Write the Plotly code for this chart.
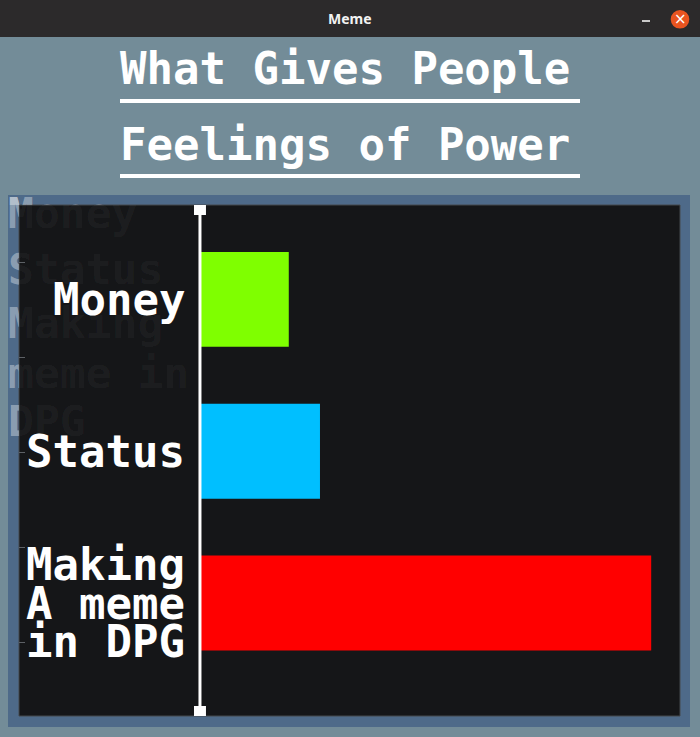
import plotly.graph_objects as go

W, H = 700, 737

# ---- data ----
CATEGORIES = ["Money", "Status", "Making A meme in DPG"]
VALUES = [18.5, 25, 94]
COLORS = ["#7fff00", "#00bfff", "#ff0000"]
LABEL_LINES = [["Money"], ["Status"], ["Making", "A meme", "in DPG"]]
TITLE_LINES = ["What Gives People", "Feelings of Power"]
GHOST_LINES = ["Money", "Status", "Making", "meme in", "DPG"]
WINDOW_TITLE = "Meme"

MONO = "DejaVu Sans Mono"


def px(x):
    return x / W


def py(y):
    return 1 - y / H


# pixel boxes (left, top, right, bottom)
FRAME = (8, 195, 690, 727)
PLOT = (19, 205, 680, 716)
GHOST_Y = [217, 273, 327, 377, 425]
TICK_PIX = [262, 357, 452, 547, 642]

fig = go.Figure()


def ghost_trace(xa, ya, alpha):
    return go.Scatter(
        x=[8] * len(GHOST_LINES), y=GHOST_Y, text=GHOST_LINES,
        mode="text", textposition="middle right",
        textfont=dict(family=MONO, size=43, color=f"rgba(255,255,255,{alpha})", weight="bold"),
        cliponaxis=True, hoverinfo="skip", xaxis=xa, yaxis=ya,
    )


# ghost text: bright over frame strips, barely visible over plot area
fig.add_trace(ghost_trace("x", "y", 0.37))      # left strip of frame
fig.add_trace(ghost_trace("x3", "y3", 0.37))    # top strip of frame
fig.add_trace(ghost_trace("x4", "y4", 0.045))   # inside plot area

# bars
fig.add_trace(go.Bar(
    x=VALUES, y=CATEGORIES, orientation="h", width=0.625,
    marker=dict(color=COLORS, line=dict(width=0)),
    xaxis="x2", yaxis="y2", hoverinfo="skip",
))

X_RANGE = [-37.7, 100]
Y_RANGE = [2.744, -0.622]

shapes = []
# window title bar
shapes.append(dict(type="rect", xref="paper", yref="paper", x0=0, x1=1, y0=py(37), y1=1,
                   fillcolor="#2c2a2b", line=dict(width=0), layer="below"))
# plot frame
shapes.append(dict(type="rect", xref="paper", yref="paper", x0=px(FRAME[0]), x1=px(FRAME[2]),
                   y0=py(FRAME[3]), y1=py(FRAME[1]),
                   fillcolor="#4e6a89", line=dict(width=0), layer="below"))
# dark plot area
shapes.append(dict(type="rect", xref="paper", yref="paper", x0=px(PLOT[0]), x1=px(PLOT[2]),
                   y0=py(PLOT[3]), y1=py(PLOT[1]),
                   fillcolor="#151618", line=dict(width=1, color="#45484d"), layer="below"))
# title underlines
for yy in (99, 174):
    shapes.append(dict(type="rect", xref="paper", yref="paper", x0=px(120), x1=px(580),
                       y0=py(yy + 4), y1=py(yy), fillcolor="white", line=dict(width=0)))
# axis line with handles
shapes.append(dict(type="line", xref="x2", yref="y2 domain", x0=0, x1=0, y0=0, y1=1,
                   line=dict(color="white", width=3), layer="above"))
for anchor, y0, y1 in ((1, -10, 0), (0, 0, 10)):
    shapes.append(dict(type="rect", xref="x2", yref="y2 domain", xsizemode="pixel", ysizemode="pixel",
                       xanchor=0, yanchor=anchor, x0=-6, x1=6, y0=y0, y1=y1,
                       fillcolor="white", line=dict(width=0), layer="above"))
# window close button and minimize dash
shapes.append(dict(type="circle", xref="paper", yref="paper", x0=px(670.7), x1=px(689.3),
                   y0=py(28.6), y1=py(10), fillcolor="#e95420", line=dict(width=0)))
shapes.append(dict(type="line", xref="paper", yref="paper", x0=px(642), x1=px(650),
                   y0=py(21), y1=py(21), line=dict(color="white", width=1.5)))

annotations = []
annotations.append(dict(text="<b>" + WINDOW_TITLE + "</b>", x=px(350), y=py(19), xref="paper", yref="paper",
                        showarrow=False, xanchor="center", yanchor="middle",
                        font=dict(family="Noto Sans", size=14, color="#f2f2f2")))
annotations.append(dict(text="×", x=px(680), y=py(19), xref="paper", yref="paper",
                        showarrow=False, xanchor="center", yanchor="middle",
                        font=dict(family="DejaVu Sans", size=15, color="white")))
for line, yc in zip(TITLE_LINES, (68, 144)):
    annotations.append(dict(text="<b>" + line + "</b>", x=px(345), y=py(yc), xref="paper", yref="paper",
                            showarrow=False, xanchor="center", yanchor="middle",
                            font=dict(family=MONO, size=44, color="white")))
for cat, lines in zip(CATEGORIES, LABEL_LINES):
    n = len(lines)
    for j, line in enumerate(lines):
        annotations.append(dict(text="<b>" + line + "</b>", x=0, y=cat, xref="x2", yref="y2",
                                xanchor="right", yanchor="middle", xshift=-13,
                                yshift=((n - 1) / 2 - j) * 38.5, showarrow=False,
                                font=dict(family=MONO, size=44, color="white")))


def pix_axes(box, side):
    l, t, r, b = box
    xa = dict(domain=[px(l), px(r)], range=[l, r], visible=False, fixedrange=True)
    ya = dict(domain=[py(b), py(t)], range=[b, t], visible=False, fixedrange=True)
    return xa, ya


xa1, ya1 = pix_axes((FRAME[0], FRAME[1], PLOT[0], FRAME[3]), "left")
xa3, ya3 = pix_axes((FRAME[0], FRAME[1], FRAME[2], PLOT[1]), "top")
xa4, ya4 = pix_axes(PLOT, "plot")
xa3.update(anchor="y3")
ya3.update(anchor="x3")
xa4.update(anchor="y4")
ya4.update(anchor="x4", visible=True, showticklabels=False, showgrid=False, zeroline=False,
           showline=False, ticks="inside", ticklen=6, tickwidth=1, tickcolor="#5d6166",
           tickmode="array", tickvals=TICK_PIX)

fig.update_layout(
    width=W, height=H, autosize=False,
    margin=dict(l=0, r=0, t=0, b=0, pad=0),
    paper_bgcolor="#738c98", plot_bgcolor="rgba(0,0,0,0)",
    showlegend=False,
    xaxis=xa1, yaxis=ya1,
    xaxis3=xa3, yaxis3=ya3,
    xaxis4=xa4, yaxis4=ya4,
    xaxis2=dict(domain=[px(PLOT[0]), px(PLOT[2])], range=X_RANGE, visible=False, anchor="y2", fixedrange=True),
    yaxis2=dict(domain=[py(PLOT[3]), py(PLOT[1])], range=Y_RANGE, visible=False, anchor="x2",
                type="category", categoryorder="array", categoryarray=CATEGORIES, fixedrange=True),
    shapes=shapes, annotations=annotations,
)

fig.write_html("out.html", config={"displayModeBar": False})
